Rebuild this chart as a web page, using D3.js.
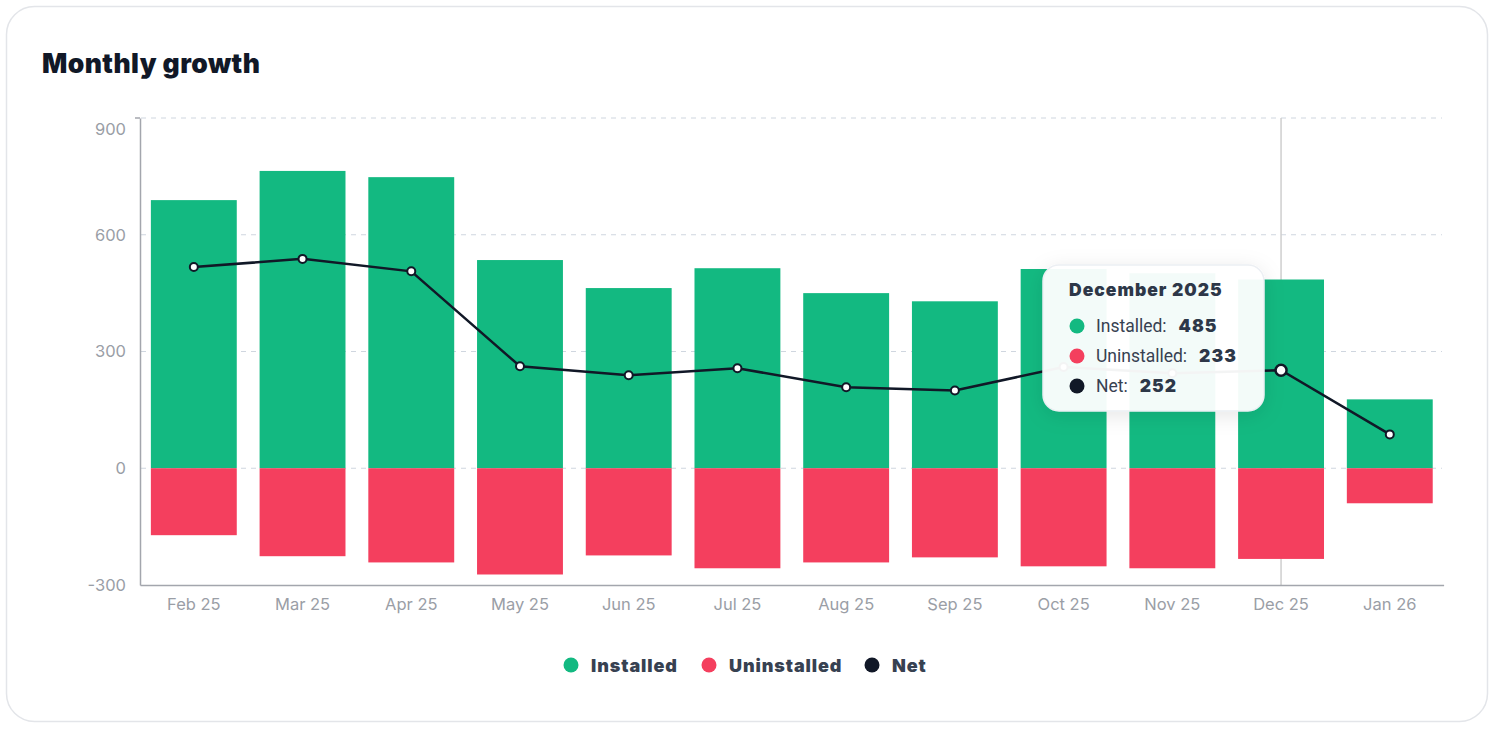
<!DOCTYPE html>
<html><head><meta charset="utf-8">
<script src="https://cdn.jsdelivr.net/npm/d3@7"></script>
<style>
html,body{margin:0;padding:0;background:#fff;}
body{width:1496px;height:730px;overflow:hidden;font-family:Roboto,"Noto Sans",sans-serif;}
</style></head>
<body>
<svg id="c" width="1496" height="730"></svg>
<script>
const months = ["Feb 25","Mar 25","Apr 25","May 25","Jun 25","Jul 25","Aug 25","Sep 25","Oct 25","Nov 25","Dec 25","Jan 26"];
const installed = [689,764,748,535,463,514,450,429,512,501,485,177];
const uninstalled = [-172,-226,-242,-273,-224,-257,-242,-229,-252,-257,-233,-90];
const net = [517,538,506,262,239,257,208,200,260,244,252,87];
const yTicks = [-300,0,300,600,900];
const seriesNames = ["Installed","Uninstalled","Net"];
const seriesColors = ["#13b981","#f43f5e","#111827"];
const hoverIndex = 10;
const hoverTitle = "December 2025";

const svg = d3.select("#c");
svg.append("rect").attr("x",6.5).attr("y",6.5).attr("width",1481).attr("height",715)
  .attr("rx",28).attr("fill","#fff").attr("stroke","#e3e5e9").attr("stroke-width",1.5);

svg.append("text").attr("x",42).attr("y",73).text("Monthly growth")
  .attr("font-family","Inter, Lato, sans-serif").attr("font-weight",900).attr("font-size",26.5)
  .attr("fill","#111827").attr("letter-spacing","0.4");

const x = d3.scaleBand().domain(months).range([140,1443.6]).paddingInner(0.21).paddingOuter(0.1);
const y = d3.scaleLinear().domain([-300,900]).range([585,118]);

// grid
const g = svg.append("g");
g.selectAll("line.grid").data(yTicks.filter(t=>t>-300)).join("line")
  .attr("x1",141).attr("x2",1442).attr("y1",d=>y(d)).attr("y2",d=>y(d))
  .attr("stroke","#cfd6df").attr("stroke-dasharray","5,5").attr("stroke-width",1);

// crosshair
g.append("line").attr("x1",x(months[hoverIndex])+x.bandwidth()/2).attr("x2",x(months[hoverIndex])+x.bandwidth()/2)
  .attr("y1",y(900)).attr("y2",y(-300)).attr("stroke","#cfcfcf").attr("stroke-width",1.5);

// bars
g.selectAll("rect.ins").data(installed).join("rect")
  .attr("x",(d,i)=>x(months[i])).attr("width",x.bandwidth())
  .attr("y",d=>y(d)).attr("height",d=>y(0)-y(d)).attr("fill",seriesColors[0]);
g.selectAll("rect.un").data(uninstalled).join("rect")
  .attr("x",(d,i)=>x(months[i])).attr("width",x.bandwidth())
  .attr("y",y(0)).attr("height",d=>y(d)-y(0)).attr("fill",seriesColors[1]);

// axes
const yAxis = d3.axisLeft(y).tickValues(yTicks).tickFormat(d=>String(d)).tickSize(0).tickPadding(14);
const ya = svg.append("g").attr("transform","translate(140,0)").call(yAxis);
ya.select(".domain").attr("stroke","#a3a6ad").attr("stroke-width",1.5);
ya.selectAll("text").attr("font-family","Inter, Roboto, sans-serif").attr("font-size",16.5).attr("fill","#9a9ea6");
ya.selectAll(".tick").filter(d=>d===900).select("text").attr("dy","1.0em");
svg.append("line").attr("x1",135).attr("x2",140).attr("y1",118).attr("y2",118).attr("stroke","#a3a6ad").attr("stroke-width",1.5);

const xAxis = d3.axisBottom(x).tickSize(0).tickPadding(13);
const xa = svg.append("g").attr("transform","translate(0,585)").call(xAxis);
xa.select(".domain").attr("stroke","#a3a6ad").attr("stroke-width",1.5);
xa.selectAll("text").attr("font-family","Inter, Roboto, sans-serif").attr("font-size",16.5).attr("fill","#9a9ea6");

// net line
const cx = i => x(months[i]) + x.bandwidth()/2;
const line = d3.line().x((d,i)=>cx(i)).y(d=>y(d));
svg.append("path").datum(net).attr("d",line).attr("fill","none").attr("stroke",seriesColors[2]).attr("stroke-width",2.5);
svg.selectAll("circle.pt").data(net).join("circle")
  .attr("cx",(d,i)=>cx(i)).attr("cy",d=>y(d)).attr("r",(d,i)=>i===hoverIndex?5.5:4)
  .attr("fill","#fff").attr("stroke",seriesColors[2]).attr("stroke-width",(d,i)=>i===hoverIndex?2.5:2);

// legend
const legX = [571,709,872];
const leg = svg.append("g");
seriesNames.forEach((n,i)=>{
  leg.append("circle").attr("cx",legX[i]).attr("cy",665).attr("r",7.5).attr("fill",seriesColors[i]);
  leg.append("text").attr("x",legX[i]+20).attr("y",671.5).text(n)
    .attr("font-family","Inter, Lato, sans-serif").attr("font-weight",900).attr("font-size",18)
    .attr("fill","#374151").attr("letter-spacing","0.9");
});

// tooltip
const defs = svg.append("defs");
const f = defs.append("filter").attr("id","sh").attr("x","-30%").attr("y","-30%").attr("width","160%").attr("height","160%");
f.append("feDropShadow").attr("dx",0).attr("dy",4).attr("stdDeviation",10).attr("flood-color","#000").attr("flood-opacity",0.10);
const tt = svg.append("g").attr("transform","translate(1043,265)");
tt.append("rect").attr("width",221).attr("height",146).attr("rx",16)
  .attr("fill","rgba(255,255,255,0.95)").attr("stroke","#eceff3").attr("stroke-width",1.5).attr("filter","url(#sh)");
tt.append("text").attr("x",26).attr("y",31).text(hoverTitle)
  .attr("font-family","Inter, Lato, sans-serif").attr("font-weight",900).attr("font-size",17.5).attr("fill","#2d3748").attr("letter-spacing","1");
const vals = [installed[hoverIndex], Math.abs(uninstalled[hoverIndex]), net[hoverIndex]];
seriesNames.forEach((n,i)=>{
  const yy = 61 + i*30;
  tt.append("circle").attr("cx",34).attr("cy",yy).attr("r",7.5).attr("fill",seriesColors[i]);
  const t = tt.append("text").attr("x",53).attr("y",yy+6).attr("font-size",17.5).attr("fill","#374151");
  t.append("tspan").text(n+":").attr("font-family","Roboto, sans-serif");
  t.append("tspan").attr("dx",12).text(vals[i]).attr("font-family","Inter, Lato, sans-serif").attr("font-weight",900).attr("fill","#2d3748").attr("letter-spacing","1");
});
</script>
</body></html>
